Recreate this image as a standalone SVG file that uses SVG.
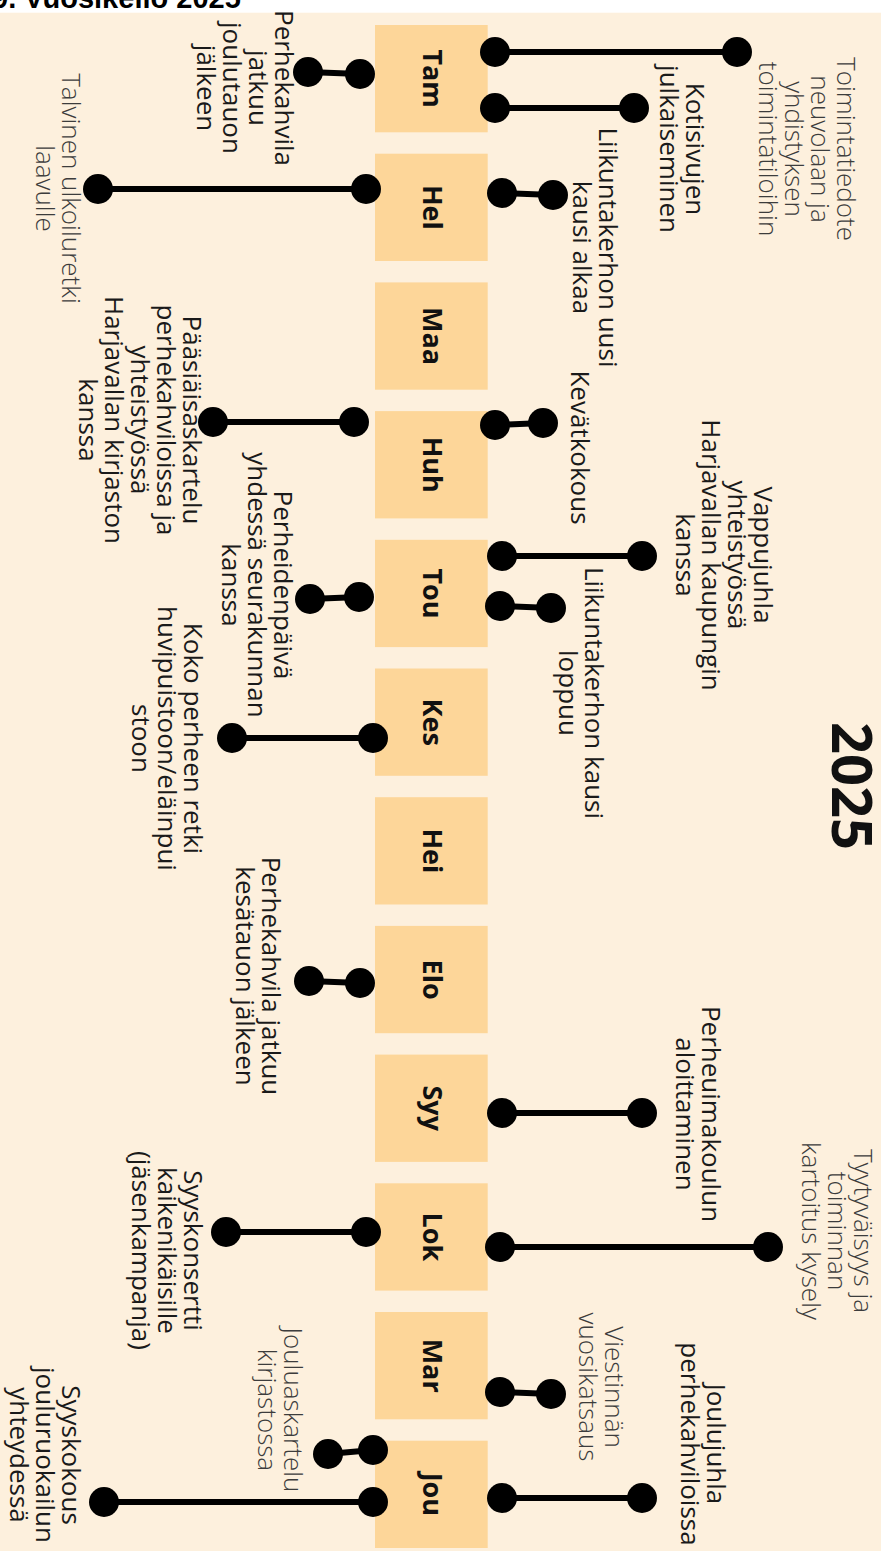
<svg xmlns="http://www.w3.org/2000/svg" width="881" height="1551" viewBox="0 0 881 1551">
  <style>
    .bg { fill: #FDF0DD; }
    .box { fill: #FDD699; }
    .mon { font-family: "Open Sans", "DejaVu Sans", sans-serif; font-weight: 700; font-size: 27px; fill: #111; }
    .lbl { font-family: "Open Sans", "DejaVu Sans", sans-serif; font-weight: 400; font-size: 26px; fill: #1a1a1a; }
    .lt { font-weight: 300; fill: #3c3c3c; }
    .bar { stroke: #000; stroke-width: 6; fill: none; }
    .dot { fill: #000; }
    .title { font-family: "Liberation Sans", Arial, sans-serif; font-weight: 700; font-size: 29px; fill: #000; }
    .year { font-family: "Open Sans", "DejaVu Sans", sans-serif; font-weight: 700; font-size: 56px; fill: #111; }
  </style>

  <!-- page -->
  <rect x="0" y="0" width="881" height="1551" fill="#fff"/>
  <rect class="bg" x="0" y="12.7" width="881" height="1538.3"/>
  <text class="title" x="-8" y="7.5">9. Vuosikello 2025</text>

  <!-- year -->
  <text class="year" text-anchor="middle" transform="translate(832,786) rotate(90)">2025</text>

  <!-- months -->
  <g id="m-tam"><rect class="box" x="375" y="25" width="112.7" height="107.3"/><text class="mon" text-anchor="middle" transform="translate(422.5,78.65) rotate(90)">Tam</text></g>
  <g id="m-hel"><rect class="box" x="375" y="153.7" width="112.7" height="107.3"/><text class="mon" text-anchor="middle" transform="translate(422.5,207.35) rotate(90)">Hel</text></g>
  <g id="m-maa"><rect class="box" x="375" y="282.4" width="112.7" height="107.3"/><text class="mon" text-anchor="middle" transform="translate(422.5,336.05) rotate(90)">Maa</text></g>
  <g id="m-huh"><rect class="box" x="375" y="411.1" width="112.7" height="107.3"/><text class="mon" text-anchor="middle" transform="translate(422.5,464.75) rotate(90)">Huh</text></g>
  <g id="m-tou"><rect class="box" x="375" y="539.8" width="112.7" height="107.3"/><text class="mon" text-anchor="middle" transform="translate(422.5,593.45) rotate(90)">Tou</text></g>
  <g id="m-kes"><rect class="box" x="375" y="668.5" width="112.7" height="107.3"/><text class="mon" text-anchor="middle" transform="translate(422.5,722.15) rotate(90)">Kes</text></g>
  <g id="m-hei"><rect class="box" x="375" y="797.2" width="112.7" height="107.3"/><text class="mon" text-anchor="middle" transform="translate(422.5,850.85) rotate(90)">Hei</text></g>
  <g id="m-elo"><rect class="box" x="375" y="925.9" width="112.7" height="107.3"/><text class="mon" text-anchor="middle" transform="translate(422.5,979.55) rotate(90)">Elo</text></g>
  <g id="m-syy"><rect class="box" x="375" y="1054.6" width="112.7" height="107.3"/><text class="mon" text-anchor="middle" transform="translate(422.5,1108.25) rotate(90)">Syy</text></g>
  <g id="m-lok"><rect class="box" x="375" y="1183.3" width="112.7" height="107.3"/><text class="mon" text-anchor="middle" transform="translate(422.5,1236.95) rotate(90)">Lok</text></g>
  <g id="m-mar"><rect class="box" x="375" y="1312" width="112.7" height="107.3"/><text class="mon" text-anchor="middle" transform="translate(422.5,1365.65) rotate(90)">Mar</text></g>
  <g id="m-jou"><rect class="box" x="375" y="1440.7" width="112.7" height="107.3"/><text class="mon" text-anchor="middle" transform="translate(422.5,1494.35) rotate(90)">Jou</text></g>

  <!-- connectors: bar with a round cap at both ends -->
  <g id="connectors">
    <g><line class="bar" x1="495" y1="52" x2="737" y2="52"/><circle class="dot" cx="495" cy="52" r="15"/><circle class="dot" cx="737" cy="52" r="15"/></g>
    <g><line class="bar" x1="495" y1="108" x2="634" y2="108"/><circle class="dot" cx="495" cy="108" r="15"/><circle class="dot" cx="634" cy="108" r="15"/></g>
    <g><line class="bar" x1="502" y1="193" x2="553" y2="195"/><circle class="dot" cx="502" cy="193" r="15"/><circle class="dot" cx="553" cy="195" r="15"/></g>
    <g><line class="bar" x1="495" y1="425" x2="543" y2="423"/><circle class="dot" cx="495" cy="425" r="15"/><circle class="dot" cx="543" cy="423" r="15"/></g>
    <g><line class="bar" x1="502" y1="556" x2="642" y2="556"/><circle class="dot" cx="502" cy="556" r="15"/><circle class="dot" cx="642" cy="556" r="15"/></g>
    <g><line class="bar" x1="500" y1="606" x2="551" y2="608"/><circle class="dot" cx="500" cy="606" r="15"/><circle class="dot" cx="551" cy="608" r="15"/></g>
    <g><line class="bar" x1="502" y1="1113" x2="642" y2="1113"/><circle class="dot" cx="502" cy="1113" r="15"/><circle class="dot" cx="642" cy="1113" r="15"/></g>
    <g><line class="bar" x1="500" y1="1247" x2="768" y2="1247"/><circle class="dot" cx="500" cy="1247" r="15"/><circle class="dot" cx="768" cy="1247" r="15"/></g>
    <g><line class="bar" x1="500" y1="1392" x2="551" y2="1394"/><circle class="dot" cx="500" cy="1392" r="15"/><circle class="dot" cx="551" cy="1394" r="15"/></g>
    <g><line class="bar" x1="502" y1="1498" x2="642" y2="1498"/><circle class="dot" cx="502" cy="1498" r="15"/><circle class="dot" cx="642" cy="1498" r="15"/></g>
    <g><line class="bar" x1="308" y1="72" x2="360" y2="74"/><circle class="dot" cx="308" cy="72" r="15"/><circle class="dot" cx="360" cy="74" r="15"/></g>
    <g><line class="bar" x1="98" y1="189" x2="366" y2="189"/><circle class="dot" cx="98" cy="189" r="15"/><circle class="dot" cx="366" cy="189" r="15"/></g>
    <g><line class="bar" x1="213" y1="422" x2="354" y2="422"/><circle class="dot" cx="213" cy="422" r="15"/><circle class="dot" cx="354" cy="422" r="15"/></g>
    <g><line class="bar" x1="310" y1="599" x2="359" y2="597"/><circle class="dot" cx="310" cy="599" r="15"/><circle class="dot" cx="359" cy="597" r="15"/></g>
    <g><line class="bar" x1="232" y1="738" x2="373" y2="738"/><circle class="dot" cx="232" cy="738" r="15"/><circle class="dot" cx="373" cy="738" r="15"/></g>
    <g><line class="bar" x1="309" y1="981" x2="360" y2="983"/><circle class="dot" cx="309" cy="981" r="15"/><circle class="dot" cx="360" cy="983" r="15"/></g>
    <g><line class="bar" x1="226" y1="1232" x2="366" y2="1232"/><circle class="dot" cx="226" cy="1232" r="15"/><circle class="dot" cx="366" cy="1232" r="15"/></g>
    <g><line class="bar" x1="328" y1="1454" x2="373" y2="1450"/><circle class="dot" cx="328" cy="1454" r="15"/><circle class="dot" cx="373" cy="1450" r="15"/></g>
    <g><line class="bar" x1="104" y1="1502" x2="373" y2="1502"/><circle class="dot" cx="104" cy="1502" r="15"/><circle class="dot" cx="373" cy="1502" r="15"/></g>
  </g>

  <!-- events, right of the month column -->
  <g id="e-toimintatiedote"><text class="lbl lt" text-anchor="middle" transform="translate(837,149) rotate(90)"><tspan x="0">Toimintatiedote</tspan><tspan x="0" dy="26">neuvolaan ja</tspan><tspan x="0" dy="26">yhdistyksen</tspan><tspan x="0" dy="26">toimintatiloihin</tspan></text></g>
  <g id="e-kotisivut"><text class="lbl" text-anchor="middle" transform="translate(686,149) rotate(90)"><tspan x="0">Kotisivujen</tspan><tspan x="0" dy="26">julkaiseminen</tspan></text></g>
  <g id="e-liikunta-alkaa"><text class="lbl" text-anchor="middle" transform="translate(599,247.5) rotate(90)"><tspan x="0">Liikuntakerhon uusi</tspan><tspan x="0" dy="26">kausi alkaa</tspan></text></g>
  <g id="e-kevatkokous"><text class="lbl" text-anchor="middle" transform="translate(571,447.5) rotate(90)">Kevätkokous</text></g>
  <g id="e-vappujuhla"><text class="lbl" text-anchor="middle" transform="translate(754,555) rotate(90)"><tspan x="0">Vappujuhla</tspan><tspan x="0" dy="26">yhteistyössä</tspan><tspan x="0" dy="26">Harjavallan kaupungin</tspan><tspan x="0" dy="26">kanssa</tspan></text></g>
  <g id="e-liikunta-loppuu"><text class="lbl" text-anchor="middle" transform="translate(585,693) rotate(90)"><tspan x="0">Liikuntakerhon kausi</tspan><tspan x="0" dy="26">loppuu</tspan></text></g>
  <g id="e-uimakoulu"><text class="lbl" text-anchor="middle" transform="translate(702,1114) rotate(90)"><tspan x="0">Perheuimakoulun</tspan><tspan x="0" dy="26">aloittaminen</tspan></text></g>
  <g id="e-kysely"><text class="lbl lt" text-anchor="middle" transform="translate(854,1231) rotate(90)"><tspan x="0">Tyytyväisyys ja</tspan><tspan x="0" dy="26">toiminnan</tspan><tspan x="0" dy="26">kartoitus kysely</tspan></text></g>
  <g id="e-vuosikatsaus"><text class="lbl lt" text-anchor="middle" transform="translate(605,1387) rotate(90)"><tspan x="0">Viestinnän</tspan><tspan x="0" dy="26">vuosikatsaus</tspan></text></g>
  <g id="e-joulujuhla"><text class="lbl" text-anchor="middle" transform="translate(707,1444) rotate(90)"><tspan x="0">Joulujuhla</tspan><tspan x="0" dy="26">perhekahviloissa</tspan></text></g>

  <!-- events, left of the month column -->
  <g id="e-kahvila-tammi"><text class="lbl" text-anchor="middle" transform="translate(275,88) rotate(90)"><tspan x="0">Perhekahvila</tspan><tspan x="0" dy="26">jatkuu</tspan><tspan x="0" dy="26">joulutauon</tspan><tspan x="0" dy="26">jälkeen</tspan></text></g>
  <g id="e-ulkoiluretki"><text class="lbl lt" text-anchor="middle" transform="translate(62,188.5) rotate(90)"><tspan x="0">Talvinen ulkoiluretki</tspan><tspan x="0" dy="26">laavulle</tspan></text></g>
  <g id="e-paasiainen"><text class="lbl" text-anchor="middle" transform="translate(183,420) rotate(90)"><tspan x="0">Pääsiäisaskartelu</tspan><tspan x="0" dy="26">perhekahviloissa ja</tspan><tspan x="0" dy="26">yhteistyössä</tspan><tspan x="0" dy="26">Harjavallan kirjaston</tspan><tspan x="0" dy="26">kanssa</tspan></text></g>
  <g id="e-perheidenpaiva"><text class="lbl" text-anchor="middle" transform="translate(274,585) rotate(90)"><tspan x="0">Perheidenpäivä</tspan><tspan x="0" dy="26">yhdessä seurakunnan</tspan><tspan x="0" dy="26">kanssa</tspan></text></g>
  <g id="e-retki"><text class="lbl" text-anchor="middle" transform="translate(184,738.5) rotate(90)"><tspan x="0">Koko perheen retki</tspan><tspan x="0" dy="26">huvipuistoon/eläinpui</tspan><tspan x="0" dy="26">stoon</tspan></text></g>
  <g id="e-kahvila-elo"><text class="lbl" text-anchor="middle" transform="translate(262,976) rotate(90)"><tspan x="0">Perhekahvila jatkuu</tspan><tspan x="0" dy="26">kesätauon jälkeen</tspan></text></g>
  <g id="e-syyskonsertti"><text class="lbl" text-anchor="middle" transform="translate(184,1250.5) rotate(90)"><tspan x="0">Syyskonsertti</tspan><tspan x="0" dy="26">kaikenikäisille</tspan><tspan x="0" dy="26">(jäsenkampanja)</tspan></text></g>
  <g id="e-jouluaskartelu"><text class="lbl lt" text-anchor="middle" transform="translate(284,1410) rotate(90)"><tspan x="0">Jouluaskartelu</tspan><tspan x="0" dy="26">kirjastossa</tspan></text></g>
  <g id="e-syyskokous"><text class="lbl" text-anchor="middle" transform="translate(62,1455) rotate(90)"><tspan x="0">Syyskokous</tspan><tspan x="0" dy="26">jouluruokailun</tspan><tspan x="0" dy="26">yhteydessä</tspan></text></g>
</svg>
